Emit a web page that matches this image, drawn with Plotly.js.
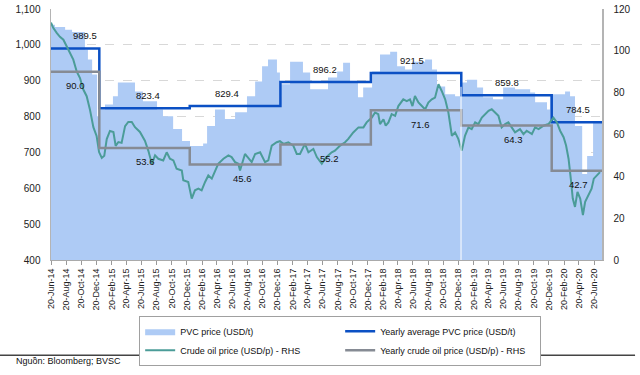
<!DOCTYPE html>
<html>
<head>
<meta charset="utf-8">
<script src="https://cdn.plot.ly/plotly-3.0.1.min.js"></script>
<style>
  html, body { margin: 0; padding: 0; background: #fff; }
  #chart { width: 640px; height: 375px; }
</style>
</head>
<body>
<div id="chart"></div>
<script>
// PVC price (USD/t), step series
var pvcDates = ['2014-06-20','2014-07-06','2014-08-16','2014-09-13','2014-11-04','2014-11-16','2014-12-03','2014-12-23',
  '2015-01-04','2015-01-24','2015-02-25','2015-03-17','2015-05-25','2015-06-26','2015-08-22','2015-09-15','2015-10-26','2015-12-01',
  '2016-01-02','2016-02-24','2016-03-11','2016-04-12','2016-05-22','2016-07-02','2016-08-19','2016-09-21','2016-10-19','2016-11-12','2016-12-18','2016-12-30',
  '2017-02-09','2017-04-02','2017-05-01','2017-07-12','2017-08-18','2017-09-11','2017-10-09','2017-11-10','2017-12-01',
  '2018-01-06','2018-02-07','2018-03-20','2018-04-17','2018-05-19','2018-06-16','2018-08-08','2018-09-05','2018-09-25','2018-10-28','2018-12-07','2018-12-27',
  '2019-01-24','2019-03-06','2019-03-30','2019-05-09','2019-06-19','2019-08-06','2019-10-06','2019-10-26','2019-12-13','2019-12-25',
  '2020-02-24','2020-03-15','2020-04-04','2020-05-03','2020-05-23','2020-06-16','2020-07-22'];
var pvcValues = [1056,1050,1042,1036,987,959,917,801,
  820,834,857,895,870,843,820,801,765,732,
  718,725,774,820,793,812,857,898,940,959,923,890,
  953,923,876,909,926,950,895,854,881,
  926,973,981,940,931,953,959,931,884,862,857,895,
  903,881,854,848,881,876,867,840,820,862,
  870,857,774,640,690,787,787];

// Crude oil price (USD/barrel) - RHS
var oilDates = ['2014-06-20','2014-06-29','2014-07-13','2014-07-26','2014-08-09','2014-08-22','2014-09-05','2014-09-18','2014-10-02','2014-10-15','2014-10-28','2014-11-11','2014-11-24','2014-12-08','2014-12-21','2014-12-31',
  '2015-01-11','2015-01-21','2015-01-31','2015-02-13','2015-02-27','2015-03-08','2015-03-19','2015-04-01','2015-04-15','2015-04-28','2015-05-12','2015-05-25','2015-06-14','2015-07-04','2015-07-18','2015-08-01','2015-08-14','2015-08-27','2015-09-16','2015-09-30','2015-10-13','2015-10-27','2015-11-09','2015-11-30','2015-12-06','2015-12-26',
  '2016-01-09','2016-01-22','2016-02-05','2016-02-18','2016-03-03','2016-03-16','2016-03-30','2016-04-12','2016-04-25','2016-05-16','2016-06-05','2016-06-18','2016-07-02','2016-07-15','2016-07-22','2016-08-11','2016-08-25','2016-09-07','2016-09-21','2016-10-11','2016-10-31','2016-11-13','2016-11-27','2016-12-17','2016-12-30',
  '2017-01-13','2017-02-02','2017-02-22','2017-03-08','2017-03-21','2017-04-10','2017-04-24','2017-05-14','2017-05-28','2017-06-17','2017-06-30','2017-07-13','2017-07-27','2017-08-09','2017-08-30','2017-09-19','2017-10-02','2017-10-22','2017-11-12','2017-12-02','2017-12-15',
  '2018-01-05','2018-01-18','2018-01-31','2018-02-07','2018-02-21','2018-03-02','2018-03-13','2018-03-26','2018-04-09','2018-04-22','2018-05-12','2018-05-26','2018-06-08','2018-06-18','2018-06-28','2018-07-12','2018-07-26','2018-08-08','2018-08-21','2018-09-04','2018-09-17','2018-10-01','2018-10-14','2018-10-28','2018-11-10','2018-11-24','2018-12-07','2018-12-20',
  '2019-01-03','2019-01-16','2019-01-30','2019-02-12','2019-02-26','2019-03-11','2019-03-25','2019-04-07','2019-04-21','2019-05-04','2019-05-17','2019-05-31','2019-06-13','2019-06-27','2019-07-10','2019-07-24','2019-08-06','2019-08-26','2019-09-09','2019-09-22','2019-10-13','2019-10-26','2019-11-09','2019-11-29','2019-12-19',
  '2020-01-08','2020-01-22','2020-02-04','2020-02-18','2020-02-28','2020-03-09','2020-03-18','2020-03-26','2020-04-04','2020-04-14','2020-04-25','2020-05-06','2020-05-15','2020-05-27','2020-06-10','2020-06-19','2020-06-30','2020-07-14'];
var oilValues = [113.5,111,108.6,106.7,105.3,102,99,95.8,90,87,81.6,78.3,72,63.5,59.3,51.6,
  48.8,49.8,57.8,61.7,61.2,54.6,56.4,56,64,66,66,63.5,61.2,57,52.2,46,50,48.4,47.6,51.5,48.4,47.6,43.6,42.8,38.1,37.3,
  29.4,33.3,34.1,33.3,37.3,40.4,38.9,42.8,46,48.4,50,49.2,46.8,46,42.8,50.7,48.4,46.8,50.7,51.5,46.8,47.6,54.7,56.3,56.8,
  55.5,56.3,54.7,50.7,50.7,55.5,51.5,53.1,49.2,46,48.4,50,51.5,52.3,54.7,56.3,57.9,61,63.4,63.4,65.8,
  68.1,70.5,69.7,65,67.3,64.2,65.8,69.7,68.9,73.6,76.8,76,76.8,73.6,78.4,75.3,73.6,72,75.3,76.8,77.6,84,80.8,76.8,70.5,59.4,61,57.9,
  52.3,59.4,63.4,62.6,65.8,65,68.1,69.7,71.3,72.1,70.5,68.9,63.4,65,65.8,63.4,61,62.6,60.2,61.8,60.2,63.4,62.6,64.2,65,
  68.1,65.8,61.8,58.7,54.7,48.4,38.9,29.4,25.4,32.6,29.4,21.5,27.8,31,34.1,38.9,40.4,42];

// Yearly averages (step lines)
var yearStarts = ['2014-06-20','2015-01-01','2016-01-01','2017-01-01','2018-01-01','2019-01-01','2020-01-01','2020-07-22'];
var pvcYearly = [989.5, 823.4, 829.4, 896.2, 921.5, 859.8, 784.5, 784.5];
var oilYearly = [90.0, 53.6, 45.6, 55.2, 71.6, 64.3, 42.7, 42.7];
var pvcLabelDates = ['2014-11-04','2015-07-17','2016-05-30','2017-06-30','2018-06-16','2019-07-05','2020-04-17'];
var oilLabelDates = ['2014-09-25','2015-07-05','2016-07-30','2017-07-20','2018-07-19','2019-07-29','2020-04-17'];

var FONT = 'Liberation Sans, Arial, sans-serif';

var traces = [
  { x: pvcDates, y: pvcValues, name: 'PVC price (USD/t)', type: 'scatter', mode: 'lines',
    line: { shape: 'hv', width: 0, color: '#9fd0c6' }, fill: 'tozeroy', fillcolor: '#aecbf5', yaxis: 'y' },
  { x: yearStarts, y: pvcYearly, name: 'Yearly average PVC price (USD/t)', type: 'scatter', mode: 'lines',
    line: { shape: 'hv', width: 2.5, color: '#0b50c4' }, yaxis: 'y' },
  { x: oilDates, y: oilValues, name: 'Crude oil price (USD/p) - RHS', type: 'scatter', mode: 'lines',
    line: { width: 2, color: '#4b9c98' }, yaxis: 'y2' },
  { x: yearStarts, y: oilYearly, name: 'Yearly crude oil price (USD/p) - RHS', type: 'scatter', mode: 'lines',
    line: { shape: 'hv', width: 2.5, color: '#868b94' }, yaxis: 'y2' }
];

var annotations = [];
for (var i = 0; i < pvcLabelDates.length; i++) {
  annotations.push({ x: pvcLabelDates[i], y: pvcYearly[i], xref: 'x', yref: 'y', text: pvcYearly[i].toFixed(1),
    showarrow: false, yshift: 13, font: { family: FONT, size: 9.5, color: '#111' } });
  annotations.push({ x: oilLabelDates[i], y: oilYearly[i], xref: 'x', yref: 'y2', text: oilYearly[i].toFixed(1),
    showarrow: false, yshift: -14, font: { family: FONT, size: 9.5, color: '#111' } });
}
annotations.push({ xref: 'paper', yref: 'paper', x: -0.067, y: -0.403, xanchor: 'left', yanchor: 'middle',
  text: 'Nguồn: Bloomberg; BVSC', showarrow: false, font: { family: FONT, size: 9, color: '#111' } });

var layout = {
  width: 640, height: 375,
  margin: { l: 51, r: 38, t: 9, b: 113 },
  paper_bgcolor: '#fff', plot_bgcolor: '#fff',
  font: { family: FONT, size: 10, color: '#222' },
  showlegend: true,
  legend: { orientation: 'h', x: 0.16, y: -0.222, xanchor: 'left', yanchor: 'top',
    bordercolor: '#a0a0a0', borderwidth: 1, entrywidth: 155, itemwidth: 30,
    font: { family: FONT, size: 9, color: '#111' }, tracegroupgap: 0 },
  xaxis: { type: 'date', range: ['2014-06-20', '2020-07-22'], tick0: '2014-06-20', dtick: 'M2',
    tickformat: '%d-%b-%y', tickangle: -90, ticks: 'outside', ticklen: 4, tickcolor: '#999',
    showline: true, linecolor: '#aaa', linewidth: 1, showgrid: false, zeroline: false,
    tickfont: { family: FONT, size: 9, color: '#222' } },
  yaxis: { range: [400, 1100], dtick: 100, tickformat: ',', showline: true, linecolor: '#b4b4b4', linewidth: 1.5,
    showgrid: true, gridcolor: '#d8d8d8', griddash: 'dash', gridwidth: 1, zeroline: false,
    ticks: 'outside', ticklen: 7, tickcolor: 'rgba(0,0,0,0)', tickfont: { family: FONT, size: 10, color: '#222' } },
  yaxis2: { range: [0, 120], dtick: 20, overlaying: 'y', side: 'right', showline: true, linecolor: '#b4b4b4', linewidth: 1.5,
    showgrid: false, zeroline: false, ticks: 'outside', ticklen: 8, tickcolor: 'rgba(0,0,0,0)',
    tickfont: { family: FONT, size: 10, color: '#222' } },
  shapes: [
    { type: 'line', xref: 'x', yref: 'paper', x0: '2018-12-31', x1: '2018-12-31', y0: 0, y1: 0.69,
      line: { color: '#ffffff', width: 1 }, layer: 'above' },
    { type: 'line', xref: 'paper', yref: 'paper', x0: -0.093, x1: 1.06, y0: -0.379, y1: -0.379,
      line: { color: '#444', width: 1.5 } }
  ],
  annotations: annotations
};

Plotly.newPlot('chart', traces, layout, { displayModeBar: false, staticPlot: true });
</script>
</body>
</html>
